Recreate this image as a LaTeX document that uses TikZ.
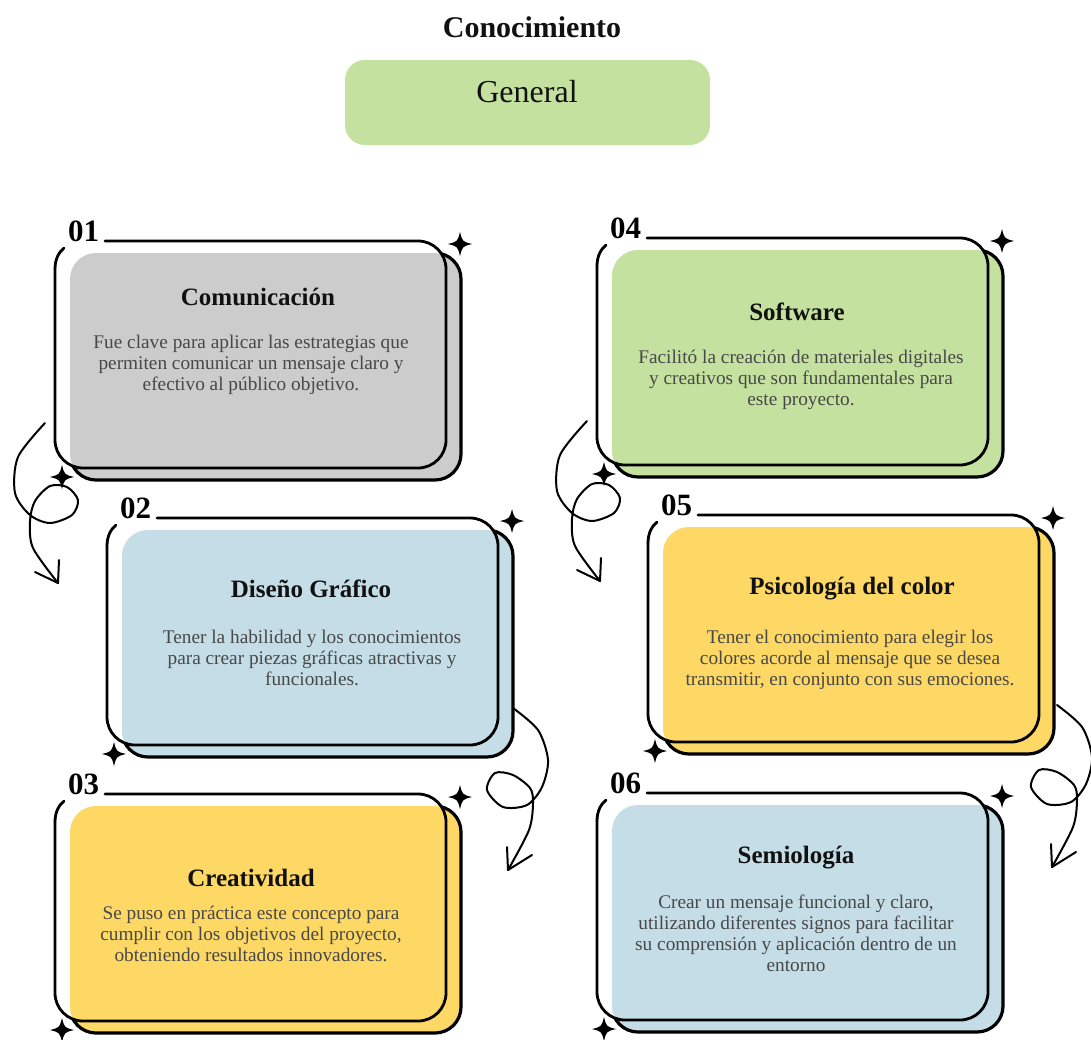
\documentclass[tikz,border=0pt]{standalone}
\usepackage{fontspec}
\setmainfont{Liberation Serif}
\definecolor{cgrey}{HTML}{CCCCCC}
\definecolor{cblue}{HTML}{C4DDE6}
\definecolor{cyellow}{HTML}{FDD865}
\definecolor{cgreen}{HTML}{C5E1A0}
\definecolor{bodygray}{HTML}{484848}
\definecolor{titleblack}{HTML}{111111}
\tikzset{
  cardline/.style={line width=2.8pt, line cap=round, line join=round},
  backline/.style={line width=3.2pt, line cap=round, line join=round},
  numlbl/.style={font=\bfseries\fontsize{31}{31}\selectfont, inner sep=0pt, anchor=base west},
  ttl/.style={font=\bfseries\fontsize{25}{28}\selectfont, inner sep=0pt, anchor=base, text=titleblack},
  bodytxt/.style={font=\fontsize{19.3}{21}\selectfont, inner sep=0pt, anchor=base, text=bodygray},
  curly/.style={line width=2pt, line cap=round, line join=round},
  sparkle/.pic={\fill (0,-12) .. controls (2.4,-2.4) .. (12,0) .. controls (2.4,2.4) .. (0,12) .. controls (-2.4,2.4) .. (-12,0) .. controls (-2.4,-2.4) .. cycle;},
  curlyL/.pic={
    \draw[curly] plot[smooth] coordinates {(0,0) (-27,34) (-30,70) (-15,92) (5,100) (27,92) (33,77) (22,64) (5,63) (-10,78) (-15,98) (-12,125) (13,160)};
    \draw[curly] (-10,149) -- (13,160) -- (14,137);
  },
  curlyR/.pic={
    \draw[curly] plot[smooth] coordinates {(0,0) (25,22) (35,52) (29,79) (14,97) (-10,99) (-26,82) (-18,65) (0,67) (17,80) (20,95) (16,122) (-5,162)};
    \draw[curly] (19,147) -- (-5,162) -- (-6,139);
  }
}
% #1 name, #2 left, #3 top, #4 colour, #5 number
\newcommand\mycard[5]{%
  \fill[#4, rounded corners=26pt] ({#2+15},{#3+12}) rectangle ({#2+406},{#3+239});
  \begin{scope}[rounded corners=28pt]
    \clip (-50,-50) -- (1150,-50) -- (1150,1100) -- (-50,1100) -- cycle
          (#2,#3) -- (#2,{#3+227}) -- ({#2+391},{#3+227}) -- ({#2+391},#3) -- cycle;
    \draw[backline, rounded corners=26pt] ({#2+15},{#3+12}) rectangle ({#2+406},{#3+239});
  \end{scope}
  \draw[cardline, rounded corners=28pt] ({#2+50},#3) -- ({#2+391},#3) -- ({#2+391},{#3+227}) -- (#2,{#3+227}) -- (#2,{#3+28});
  \draw[cardline] (#2,{#3+28}) .. controls (#2,{#3+18}) and ({#2+4},{#3+11}) .. ({#2+9},{#3+7});
  \node[numlbl] (#1num) at ({#2+13},{#3}) {#5};
  \pic at ({#2+405},{#3+3}) {sparkle};
  \pic at ({#2+7},{#3+236}) {sparkle};
}
\begin{document}
\begin{tikzpicture}[x=1pt,y=-1pt]
\useasboundingbox (0,0) rectangle (1091,1039);
\fill[white] (0,0) rectangle (1091,1039);

\node[font=\bfseries\fontsize{30}{30}\selectfont, inner sep=0pt, anchor=base, text=titleblack] (conoc) at (532,37) {Conocimiento};
\node[fill=cgreen, rounded corners=20pt, minimum width=365pt, minimum height=85pt, inner sep=0pt] (gbox) at (527.5,102.5) {};
\node[font=\fontsize{32}{32}\selectfont, inner sep=0pt, anchor=base, text=titleblack] (gen) at (527,102) {General};

\mycard{c1}{55}{241}{cgrey}{01}
\mycard{c2}{107}{518}{cblue}{02}
\mycard{c3}{55}{794}{cyellow}{03}
\mycard{c4}{597}{238}{cgreen}{04}
\mycard{c5}{648}{515}{cyellow}{05}
\mycard{c6}{597}{793}{cblue}{06}

\node[ttl] (t1) at (258,305) {Comunicación};
\node[bodytxt] (b1) at (251,348) {\begin{tabular}[t]{@{}c@{}}Fue clave para aplicar las estrategias que\\permiten comunicar un mensaje claro y\\efectivo al público objetivo.\end{tabular}};

\node[ttl] (t2) at (311,597) {Diseño Gráfico};
\node[bodytxt] (b2) at (312,643) {\begin{tabular}[t]{@{}c@{}}Tener la habilidad y los conocimientos\\para crear piezas gráficas atractivas y\\funcionales.\end{tabular}};

\node[ttl] (t3) at (251,886) {Creatividad};
\node[bodytxt] (b3) at (251,919) {\begin{tabular}[t]{@{}c@{}}Se puso en práctica este concepto para\\cumplir con los objetivos del proyecto,\\obteniendo resultados innovadores.\end{tabular}};

\node[ttl] (t4) at (797,320) {Software};
\node[bodytxt] (b4) at (801,363) {\begin{tabular}[t]{@{}c@{}}Facilitó la creación de materiales digitales\\y creativos que son fundamentales para\\este proyecto.\end{tabular}};

\node[ttl] (t5) at (852,594) {Psicología del color};
\node[bodytxt] (b5) at (850,643) {\begin{tabular}[t]{@{}c@{}}Tener el conocimiento para elegir los\\colores acorde al mensaje que se desea\\transmitir, en conjunto con sus emociones.\end{tabular}};

\node[ttl] (t6) at (796,863) {Semiología};
\node[bodytxt] (b6) at (796,908) {\begin{tabular}[t]{@{}c@{}}Crear un mensaje funcional y claro,\\utilizando diferentes signos para facilitar\\su comprensión y aplicación dentro de un\\entorno\end{tabular}};

\coordinate (a1) at (45,423);
\coordinate (a2) at (587,421);
\coordinate (a3) at (513,708);
\coordinate (a4) at (1057,705);
\pic at (a1) {curlyL};
\pic at (a2) {curlyL};
\pic at (a3) {curlyR};
\pic at (a4) {curlyR};
\end{tikzpicture}
\end{document}
